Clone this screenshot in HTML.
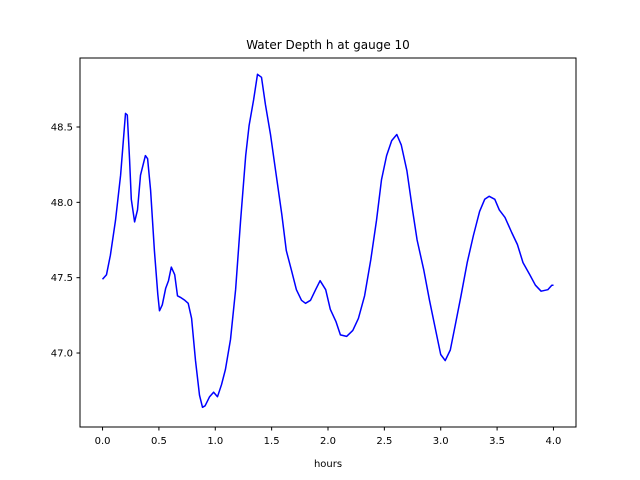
<!DOCTYPE html>
<html><head><meta charset="utf-8"><style>
body{margin:0;background:#fff;}
svg{display:block;font-family:"DejaVu Sans","Liberation Sans",sans-serif;}
</style></head><body>
<svg id="chart" width="640" height="480"></svg>
<script>
const hours=[0,0.035,0.07,0.115,0.16,0.204,0.22,0.24,0.255,0.284,0.31,0.337,0.38,0.40,0.426,0.46,0.49,0.505,0.53,0.56,0.585,0.61,0.64,0.665,0.69,0.73,0.76,0.79,0.825,0.86,0.887,0.91,0.95,0.985,1.02,1.055,1.09,1.135,1.18,1.225,1.27,1.30,1.34,1.375,1.41,1.445,1.49,1.535,1.59,1.63,1.675,1.72,1.765,1.80,1.845,1.89,1.93,1.98,2.02,2.07,2.11,2.165,2.22,2.27,2.325,2.38,2.43,2.475,2.52,2.565,2.61,2.65,2.70,2.75,2.79,2.85,2.90,2.955,3.0,3.04,3.085,3.13,3.18,3.235,3.29,3.345,3.39,3.43,3.48,3.52,3.57,3.63,3.68,3.73,3.79,3.84,3.89,3.95,3.985,4.0];
const depth=[47.49,47.52,47.65,47.88,48.18,48.59,48.58,48.28,48.02,47.87,47.95,48.18,48.31,48.29,48.08,47.68,47.39,47.28,47.32,47.43,47.48,47.57,47.52,47.38,47.37,47.35,47.33,47.23,46.95,46.72,46.64,46.65,46.71,46.74,46.71,46.79,46.89,47.09,47.42,47.88,48.31,48.51,48.68,48.85,48.83,48.65,48.45,48.21,47.92,47.68,47.55,47.42,47.35,47.33,47.35,47.42,47.48,47.42,47.29,47.21,47.12,47.11,47.15,47.23,47.38,47.62,47.88,48.15,48.31,48.41,48.45,48.38,48.21,47.95,47.75,47.55,47.35,47.15,46.99,46.95,47.02,47.19,47.38,47.6,47.78,47.94,48.02,48.04,48.02,47.95,47.9,47.8,47.72,47.6,47.52,47.45,47.41,47.42,47.45,47.45];
const xTicks=[0,0.5,1,1.5,2,2.5,3,3.5,4];
const xTickLabels=["0.0","0.5","1.0","1.5","2.0","2.5","3.0","3.5","4.0"];
const yTicks=[47,47.5,48,48.5];
const yTickLabels=["47.0","47.5","48.0","48.5"];
const L=80,R=576,T=58,B=427;
const xmin=-0.2,xmax=4.2,ymin=46.509,ymax=48.958;
const sx=v=>L+(v-xmin)/(xmax-xmin)*(R-L);
const sy=v=>B-(v-ymin)/(ymax-ymin)*(B-T);
const svg=document.getElementById('chart');
const NS='http://www.w3.org/2000/svg';
function mk(tag,attrs,parent){const e=document.createElementNS(NS,tag);for(const k in attrs)e.setAttribute(k,attrs[k]);(parent||svg).appendChild(e);return e;}
let d=hours.map((h,i)=>(i?'L':'M')+sx(h).toFixed(1)+','+sy(depth[i]).toFixed(1)).join('');
const line=mk('path',{d:d,fill:'none',stroke:'#0000ff','stroke-width':1.5,'stroke-linejoin':'round'});


const frame=mk('rect',{x:L,y:T,width:R-L,height:B-T,fill:'none',stroke:'#000','stroke-width':1});


xTicks.forEach((v,i)=>{
  const x=sx(v);
  const t=mk('line',{x1:x,x2:x,y1:B,y2:B+3.5,stroke:'#000'});
  
  
  const lb=mk('text',{x:x,y:B+17,'font-size':10,'text-anchor':'middle'});
  lb.textContent=xTickLabels[i];
  
  
});
yTicks.forEach((v,i)=>{
  const y=sy(v);
  const t=mk('line',{x1:L-3.5,x2:L,y1:y,y2:y,stroke:'#000'});
  
  
  const lb=mk('text',{x:L-7,y:y+3.5,'font-size':10,'text-anchor':'end'});
  lb.textContent=yTickLabels[i];
  
  
});
const xt=mk('text',{x:(L+R)/2,y:467,'font-size':10,'text-anchor':'middle'});
xt.textContent='hours';


const tt=mk('text',{x:(L+R)/2,y:49,'font-size':12,'text-anchor':'middle'});
tt.textContent='Water Depth h at gauge 10';


</script>
</body></html>
